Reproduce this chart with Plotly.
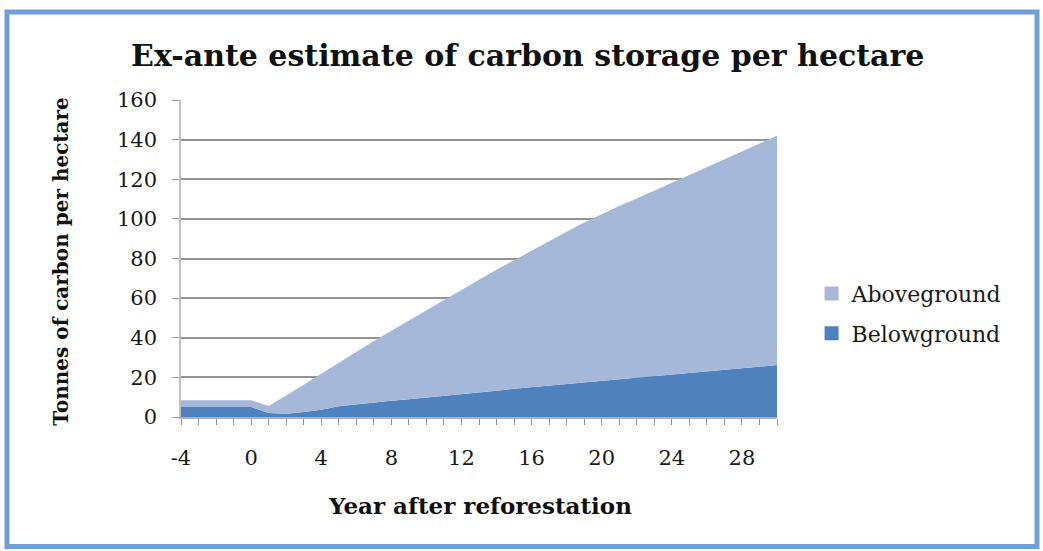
import plotly.graph_objects as go

years = list(range(-4, 31))
belowground = [5.0, 5.0, 5.0, 5.0, 5.0, 2.0, 1.7, 2.5, 3.7, 5.4, 6.4, 7.2, 8.2, 9.0, 9.8,
               10.6, 11.5, 12.4, 13.3, 14.2, 15.0, 15.9, 16.8, 17.6, 18.5, 19.3, 20.0,
               20.8, 21.6, 22.3, 23.0, 23.8, 24.6, 25.4, 26.2]
aboveground = [3.4, 3.4, 3.4, 3.4, 3.4, 3.6, 9.1, 13.8, 18.1, 22.0, 26.6, 31.1, 35.3, 39.7,
               44.1, 48.6, 52.8, 56.9, 61.0, 65.0, 69.0, 72.9, 76.7, 80.6, 84.0, 87.2,
               90.3, 93.4, 96.4, 99.7, 103.0, 106.2, 109.4, 112.6, 115.8]
x_ticks = [-4, 0, 4, 8, 12, 16, 20, 24, 28]
x_ticktext = [str(v) for v in x_ticks]
y_ticks = [0, 20, 40, 60, 80, 100, 120, 140, 160]

c_below = "#4f81bd"
c_above = "#a5b8d9"
serif = "DejaVu Serif"

fig = go.Figure()
fig.add_trace(go.Scatter(x=years, y=belowground, stackgroup="one", mode="lines",
                         line=dict(width=0), fillcolor=c_below, showlegend=False,
                         name="Belowground"))
fig.add_trace(go.Scatter(x=years, y=aboveground, stackgroup="one", mode="lines",
                         line=dict(width=0), fillcolor=c_above, showlegend=False,
                         name="Aboveground"))
# legend entries
fig.add_trace(go.Scatter(x=[None], y=[None], mode="markers", name="Aboveground",
                         marker=dict(symbol="square", size=14, color=c_above),
                         legendgroup="a"))
fig.add_trace(go.Scatter(x=[None], y=[None], mode="markers", name="Belowground",
                         marker=dict(symbol="square", size=14, color=c_below),
                         legendgroup="b"))

fig.update_layout(
    width=1043, height=551,
    margin=dict(l=181, r=266, t=100, b=134),
    paper_bgcolor="white", plot_bgcolor="white",
    font=dict(family=serif, color="#1a1a1a"),
    title=dict(text="<b>Ex-ante estimate of carbon storage per hectare</b>",
               x=0.506, xref="container", xanchor="center",
               y=1 - 55 / 551, yref="container", yanchor="middle",
               font=dict(family=serif, size=30, color="#111111")),
    showlegend=True,
    legend=dict(x=1.058, y=0.455, xanchor="left", yanchor="top",
                font=dict(family=serif, size=22, color="#1a1a1a"),
                tracegroupgap=8, itemwidth=30, bgcolor="rgba(0,0,0,0)"),
    xaxis=dict(range=[-4, 30], tickvals=x_ticks, ticktext=x_ticktext,
               ticks="outside", ticklen=6,
               tickcolor="#999999", showgrid=False, zeroline=False,
               showline=True, linecolor="#b0b0b0", linewidth=1.5,
               tickfont=dict(family=serif, size=21), ticklabelstandoff=15,
               minor=dict(dtick=1, ticks="outside", ticklen=6, tickcolor="#999999",
                          showgrid=False)),
    yaxis=dict(range=[0, 160], tickvals=y_ticks, ticks="outside", ticklen=7,
               tickcolor="#999999", showgrid=True, gridcolor="#949494", gridwidth=1.5,
               zeroline=False, showline=True, linecolor="#c0c0c0", linewidth=1.5,
               tickfont=dict(family=serif, size=21), ticklabelstandoff=11),
    annotations=[
        dict(text="<b>Tonnes of carbon per hectare</b>", xref="paper", yref="paper",
             x=(61 - 181) / 596, y=0.49, textangle=-90, showarrow=False,
             xanchor="center", yanchor="middle",
             font=dict(family=serif, size=20, color="#111111")),
        dict(text="<b>Year after reforestation</b>", xref="paper", yref="paper",
             x=(480 - 181) / 596, y=(416.7 - 505) / 316.7, showarrow=False,
             xanchor="center", yanchor="middle",
             font=dict(family=serif, size=23, color="#111111")),
    ],
    shapes=[dict(type="rect", xref="paper", yref="paper",
                 x0=(7 - 181) / 596, x1=(1037 - 181) / 596,
                 y0=(416.7 - 546) / 316.7, y1=(416.7 - 12) / 316.7,
                 line=dict(color="#6f9fd6", width=5), layer="below")],
)

fig.write_html("out.html",
               config={"displayModeBar": False},
               post_script="document.body.style.margin='0';"
                           "document.body.style.padding='0';"
                           "document.body.style.overflow='hidden';")
